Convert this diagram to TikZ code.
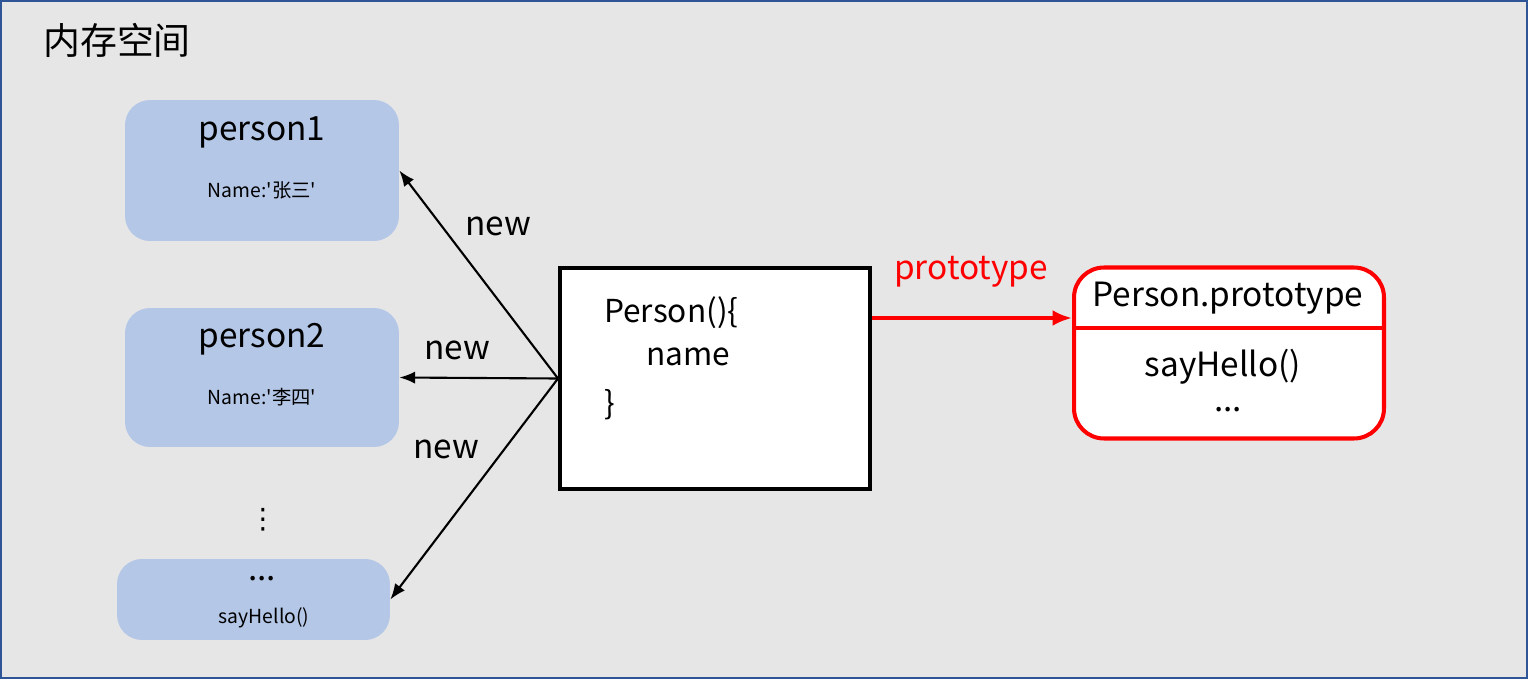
\documentclass[tikz,border=0pt]{standalone}
\usepackage{fontspec}
\setmainfont{Noto Sans CJK SC}
\newfontfamily\plainfont{Noto Sans CJK SC}
\newfontfamily\dejavu{DejaVu Sans}
\usetikzlibrary{arrows.meta}
\definecolor{bgray}{HTML}{E6E6E6}
\definecolor{frameblue}{HTML}{2F5597}
\definecolor{objblue}{HTML}{B4C7E7}
\begin{document}
\begin{tikzpicture}[x=0.02cm, y=-0.02cm,
    objbox/.style={rounded corners=0.5cm, fill=objblue, minimum width=5.48cm},
    big/.style={font=\fontsize{19}{22}\selectfont},
    code/.style={font=\fontsize{18}{21}\selectfont},
    small/.style={font=\plainfont\fontsize{11}{13}\selectfont},
    arr/.style={-{Latex[length=9pt,width=7pt]}, line width=1.2pt}]
 	\useasboundingbox (0,0) rectangle (1528,679);
 	\draw [fill=bgray, draw=frameblue, line width=1.5pt] (1,1) rectangle (1527,678);
 	\node [font=\fontsize{21}{25}\selectfont] (title) at (117,40) {内存空间};
 	
 	% objects
 	\node [objbox, minimum height=2.82cm] (p1) at (262,170.5) {};
 	\node [big] (p1name) at (262,132) {person1};
 	\node [small] (p1val) at (262,190) {Name:'张三'};
 	\node [objbox, minimum height=2.78cm] (p2) at (262,377.5) {};
 	\node [big] (p2name) at (262,339) {person2};
 	\node [small] (p2val) at (262,397) {Name:'李四'};
 	\node [font=\dejavu\fontsize{16}{19}\selectfont] (vdots) at (263,520) {⋮};
 	\node [objbox, minimum width=5.46cm, minimum height=1.62cm] (pn) at (253.5,599.5) {};
 	\node [big] (pndots) at (262,579) {...};
 	\node [small] (pnval) at (264,618) {sayHello()};
 	
 	% constructor
 	\node [draw, fill=white, line width=2.3pt, minimum width=6.2cm, minimum height=4.42cm] (ctor) at (715,378.5) {};
 	\node [code, anchor=west] (c1) at (598,313) {Person()\{};
 	\node [code, anchor=west] (c2) at (640,357) {name};
 	\node [code, anchor=west] (c3) at (598,405) {\}};
 	
 	% prototype object
 	\node [draw=red, fill=white, line width=2.3pt, rounded corners=0.6cm, minimum width=6.2cm, minimum height=3.42cm] (proto) at (1229,353) {};
 	\draw [red, line width=2.3pt] (proto.west |- 0,328) -- (proto.east |- 0,328);
 	\node [big] (ptitle) at (1228,298) {Person.prototype};
 	\node [big] (phello) at (1223,367) {sayHello()};
 	\node [big] (pdots) at (1228,410) {...};
 	
 	% arrows
 	\draw [arr] (ctor.west) -- (p1.east);
 	\draw [arr] (ctor.west) -- (p2.east);
 	\draw [arr] (ctor.west) -- (pn.east);
 	\node [big] (new1) at (498,226) {new};
 	\node [big] (new2) at (457,350) {new};
 	\node [big] (new3) at (446,449) {new};
 	\draw [red, -{Latex[length=11pt,width=9pt]}, line width=2.3pt] (ctor.east |- 0,318) -- (proto.west |- 0,318);
 	\node [big, red] (plabel) at (971,272) {prototype};
 \end{tikzpicture}
\end{document}
